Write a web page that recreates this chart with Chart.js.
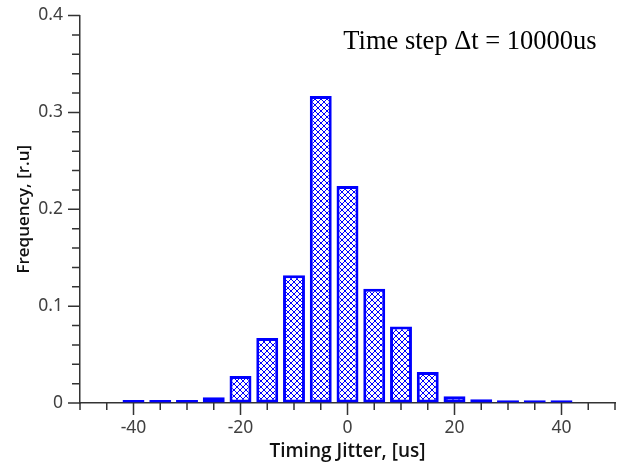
<!DOCTYPE html>
<html><head><meta charset="utf-8">
<script src="https://cdn.jsdelivr.net/npm/chart.js@4"></script>
<style>html,body{margin:0;padding:0;background:#fff}#wrap{width:628px;height:466px}</style>
</head><body><div id="wrap"><canvas id="c" width="628" height="466"></canvas></div>
<script>
const binCenters = [-40,-35,-30,-25,-20,-15,-10,-5,0,5,10,15,20,25,30,35,40];
const frequency = [0.003,0.003,0.003,0.006,0.028,0.067,0.132,0.317,0.224,0.118,0.079,0.032,0.007,0.004,0.0028,0.0028,0.0028];
const xMajorTicks = [-40,-20,0,20,40];
const xMinorTicks = [-50,-45,-40,-35,-30,-25,-20,-15,-10,-5,0,5,10,15,20,25,30,35,40,45,50];
const yMajorTicks = [0,0.1,0.2,0.3,0.4];
const yMinorTicks = [0,0.02,0.04,0.06,0.08,0.1,0.12,0.14,0.16,0.18,0.2,0.22,0.24,0.26,0.28,0.3,0.32,0.34,0.36,0.38,0.4];
const annotationText = 'Time step \u0394t = 10000us';
const xTitle = 'Timing Jitter, [us]';
const yTitle = 'Frequency, [r.u]';

const BLUE = '#0000ff';
const AXIS = '#333333';

function hatch() {
  const p = document.createElement('canvas');
  p.width = 6; p.height = 6;
  const g = p.getContext('2d');
  g.fillStyle = '#ffffff'; g.fillRect(0,0,6,6);
  g.strokeStyle = BLUE; g.lineWidth = 1;
  g.beginPath();
  g.moveTo(-1,-1); g.lineTo(7,7);
  g.moveTo(-1,7); g.lineTo(7,-1);
  g.stroke();
  return g.createPattern(p,'repeat');
}

const tickPlugin = {
  id: 'ticksAndText',
  afterDraw(chart) {
    const ctx = chart.ctx, x = chart.scales.x, y = chart.scales.y, a = chart.chartArea;
    ctx.save();
    ctx.strokeStyle = AXIS; ctx.lineWidth = 1.5;
    ctx.beginPath();
    xMinorTicks.forEach(v => {
      const px = x.getPixelForValue(v);
      const len = xMajorTicks.includes(v) ? 12 : 7;
      ctx.moveTo(px, a.bottom); ctx.lineTo(px, a.bottom + len);
    });
    yMinorTicks.forEach(v => {
      const py = y.getPixelForValue(v);
      const len = yMajorTicks.some(m => Math.abs(m - v) < 1e-9) ? 12 : 8;
      ctx.moveTo(a.left, py); ctx.lineTo(a.left - len, py);
    });
    ctx.stroke();
    ctx.fillStyle = '#000';
    ctx.font = '26.5px "Liberation Serif"';
    ctx.textAlign = 'center'; ctx.textBaseline = 'alphabetic';
    ctx.fillText(annotationText, a.right - 145, a.top + 33);
    ctx.restore();
  }
};

new Chart(document.getElementById('c'), {
  type: 'bar',
  data: {
    datasets: [{
      data: binCenters.map((c, i) => ({x: c, y: frequency[i]})),
      backgroundColor: hatch(),
      borderColor: BLUE,
      borderWidth: 3,
      borderSkipped: false,
      barPercentage: 1,
      categoryPercentage: 0.82
    }]
  },
  options: {
    responsive: false,
    animation: false,
    devicePixelRatio: 1,
    layout: {padding: {top: 14, right: 13, left: 0, bottom: 0}},
    plugins: {legend: {display: false}, tooltip: {enabled: false}},
    scales: {
      x: {
        type: 'linear', min: -50, max: 50, offset: false,
        afterFit: s => { s.height = 63; },
        border: {display: true, color: AXIS, width: 1.5},
        grid: {display: true, offset: false, drawOnChartArea: false, drawTicks: true, tickLength: 12, tickColor: 'rgba(0,0,0,0)'},
        ticks: {stepSize: 10, autoSkip: false, maxRotation: 0, padding: 3,
          color: '#404040', font: {family: '"Noto Sans"', size: 17.5},
          callback: v => xMajorTicks.includes(v) ? String(v) : ''},
        title: {display: true, text: xTitle, color: '#111',
          font: {family: '"Open Sans"', size: 19, weight: '600'}, padding: {top: 0, bottom: 3}}
      },
      y: {
        min: 0, max: 0.4,
        afterFit: s => { s.width = 80; },
        border: {display: true, color: AXIS, width: 1.5},
        grid: {display: true, drawOnChartArea: false, drawTicks: true, tickLength: 12, tickColor: 'rgba(0,0,0,0)'},
        ticks: {stepSize: 0.1, padding: 5, color: '#404040', font: {family: '"Noto Sans"', size: 17.5},
          callback: v => v === 0 ? '0' : v.toFixed(1)},
        title: {display: true, text: yTitle, color: '#111',
          font: {family: '"Open Sans"', size: 17, weight: '600'}, padding: {top: 14, bottom: 0}}
      }
    }
  },
  plugins: [tickPlugin]
});
</script>
</body></html>
